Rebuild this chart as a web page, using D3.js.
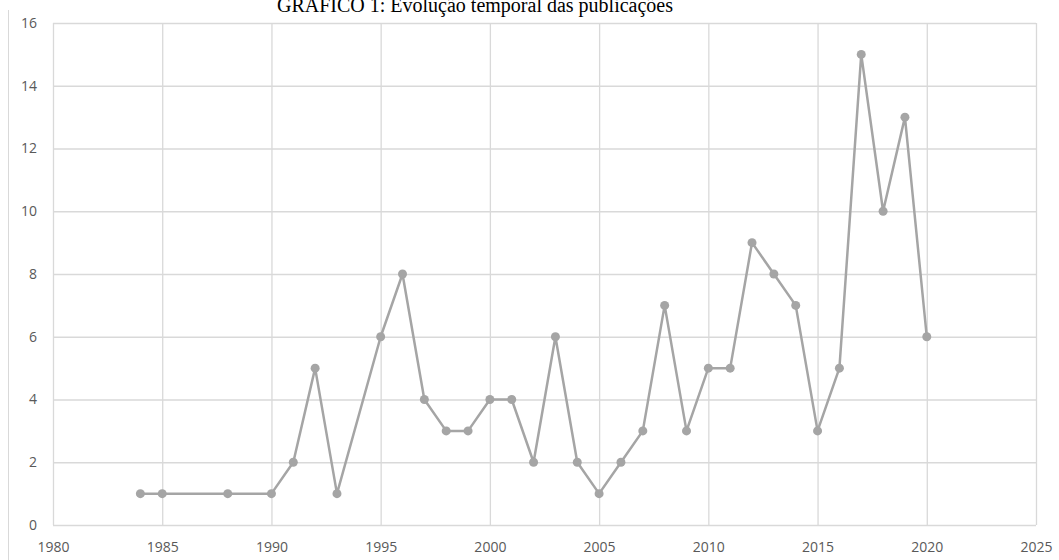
<!DOCTYPE html>
<html>
<head>
<meta charset="utf-8">
<script src="https://cdn.jsdelivr.net/npm/d3@7"></script>
<style>
  body { margin: 0; background: #fff; }
  svg { display: block; }
</style>
</head>
<body>
<div id="chart"></div>
<script>
// publications per year
const years = [1984, 1985, 1988, 1990, 1991, 1992, 1993, 1995, 1996, 1997, 1998, 1999, 2000, 2001, 2002, 2003, 2004,
               2005, 2006, 2007, 2008, 2009, 2010, 2011, 2012, 2013, 2014, 2015, 2016, 2017, 2018, 2019, 2020];
const counts = [1, 1, 1, 1, 2, 5, 1, 6, 8, 4, 3, 3, 4, 4, 2, 6, 2,
                1, 2, 3, 7, 3, 5, 5, 9, 8, 7, 3, 5, 15, 10, 13, 6];
const xTicks = [1980, 1985, 1990, 1995, 2000, 2005, 2010, 2015, 2020, 2025];
const yTicks = [0, 2, 4, 6, 8, 10, 12, 14, 16];
const title = "GRÁFICO 1: Evolução temporal das publicações";

const W = 1059, H = 560;
const margin = {top: 23, right: 23, bottom: 35, left: 53};
const width = W - margin.left - margin.right,
      height = H - margin.top - margin.bottom;

const root = d3.select("#chart").append("svg")
    .attr("width", W)
    .attr("height", H);

// outer chart border (left edge only visible)
root.append("line")
    .attr("x1", 8.5).attr("x2", 8.5)
    .attr("y1", 10).attr("y2", H)
    .attr("stroke", "#d9d9d9");

// title sits a bit left of the plot centre, top clipped like the source
root.append("text")
    .attr("x", 475)
    .attr("y", 12)
    .attr("text-anchor", "middle")
    .style("font-family", "'Liberation Serif', 'Times New Roman', serif")
    .style("font-size", "20px")
    .attr("fill", "#000")
    .text(title);

const svg = root.append("g")
    .attr("transform", `translate(${margin.left},${margin.top})`);

const x = d3.scaleLinear().domain([1980, 2025]).range([0, width]);
const y = d3.scaleLinear().domain([0, 16]).range([height, 0]);

// gridlines
svg.append("g")
    .attr("class", "grid")
    .call(d3.axisLeft(y).tickValues(yTicks).tickSize(-width).tickFormat(""))
    .call(g => g.select(".domain").remove())
    .call(g => g.selectAll("line").attr("stroke", "#d9d9d9").attr("stroke-width", 1.3));

svg.append("g")
    .attr("class", "grid")
    .attr("transform", `translate(0,${height})`)
    .call(d3.axisBottom(x).tickValues(xTicks).tickSize(-height).tickFormat(""))
    .call(g => g.select(".domain").remove())
    .call(g => g.selectAll("line").attr("stroke", "#d9d9d9").attr("stroke-width", 1.3));

// axis labels
const labelFont = "'Open Sans', 'Noto Sans', sans-serif";
svg.append("g")
    .call(d3.axisLeft(y).tickValues(yTicks).tickSize(0).tickPadding(16))
    .call(g => g.select(".domain").remove())
    .call(g => g.selectAll("text")
        .style("font-family", labelFont).style("font-size", "14px").attr("fill", "#595959"));

svg.append("g")
    .attr("transform", `translate(0,${height})`)
    .call(d3.axisBottom(x).tickValues(xTicks).tickSize(0).tickPadding(17).tickFormat(d3.format("d")))
    .call(g => g.select(".domain").remove())
    .call(g => g.selectAll("text")
        .style("font-family", labelFont).style("font-size", "14px").attr("fill", "#595959"));

const data = years.map((yr, i) => ({year: yr, value: counts[i]}));

const line = d3.line()
    .x(d => x(d.year))
    .y(d => y(d.value));

svg.append("path")
    .datum(data)
    .attr("fill", "none")
    .attr("stroke", "#a5a5a5")
    .attr("stroke-width", 2.5)
    .attr("stroke-linejoin", "round")
    .attr("d", line);

svg.selectAll("circle.pt")
    .data(data)
    .join("circle")
      .attr("class", "pt")
      .attr("cx", d => x(d.year))
      .attr("cy", d => y(d.value))
      .attr("r", 4.5)
      .attr("fill", "#a5a5a5");
</script>
</body>
</html>
